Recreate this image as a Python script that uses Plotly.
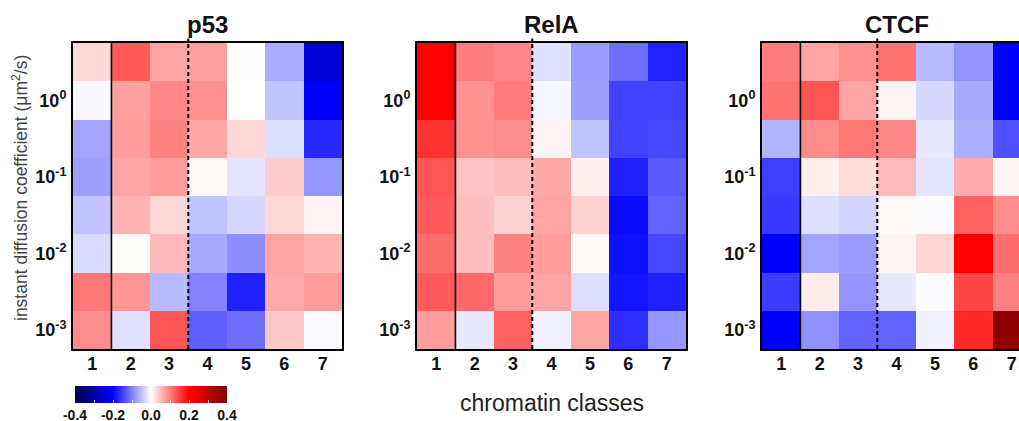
import plotly.graph_objects as go

# ---------------- data ----------------
classes = [1, 2, 3, 4, 5, 6, 7]
# row centres, log10 of instant diffusion coefficient (µm²/s), top -> bottom
log_d = [0.5, 0.0, -0.5, -1.0, -1.5, -2.0, -2.5, -3.0]
y_tick_vals = [0, -1, -2, -3]
y_tick_text = ["10<sup>0</sup>", "10<sup>-1</sup>", "10<sup>-2</sup>", "10<sup>-3</sup>"]
titles = ["p53", "RelA", "CTCF"]

p53 = [
    [0.031, 0.129, 0.071, 0.075, 0.001, -0.067, -0.245],
    [-0.005, 0.075, 0.094, 0.086, 0.000, -0.047, -0.205],
    [-0.071, 0.078, 0.098, 0.068, 0.031, -0.026, -0.169],
    [-0.075, 0.071, 0.078, 0.005, -0.021, 0.039, -0.082],
    [-0.047, 0.060, 0.031, -0.047, -0.031, 0.031, 0.009],
    [-0.029, 0.002, 0.055, -0.068, -0.089, 0.071, 0.059],
    [0.106, 0.082, -0.055, -0.098, -0.176, 0.067, 0.078],
    [0.090, -0.024, 0.133, -0.125, -0.114, 0.043, -0.004],
]
rela = [
    [0.205, 0.102, 0.094, -0.024, -0.078, -0.114, -0.173],
    [0.205, 0.086, 0.102, -0.008, -0.075, -0.149, -0.149],
    [0.161, 0.086, 0.090, 0.009, -0.047, -0.149, -0.144],
    [0.133, 0.047, 0.051, 0.068, 0.013, -0.176, -0.129],
    [0.129, 0.051, 0.035, 0.072, 0.035, -0.192, -0.122],
    [0.114, 0.051, 0.098, 0.078, 0.005, -0.188, -0.145],
    [0.129, 0.118, 0.078, 0.071, -0.026, -0.184, -0.176],
    [0.078, -0.018, 0.125, -0.012, 0.071, -0.165, -0.082],
]
ctcf = [
    [0.102, 0.071, 0.086, 0.110, -0.055, -0.084, -0.205],
    [0.110, 0.133, 0.071, 0.008, -0.031, -0.068, -0.210],
    [-0.060, 0.090, 0.106, 0.094, -0.018, -0.063, -0.137],
    [-0.151, 0.013, 0.027, 0.053, -0.021, 0.067, 0.008],
    [-0.155, -0.026, -0.034, 0.005, -0.002, 0.125, 0.090],
    [-0.205, -0.071, -0.078, 0.009, 0.034, 0.205, 0.114],
    [-0.153, 0.016, -0.084, -0.018, -0.002, 0.145, 0.100],
    [-0.205, -0.086, -0.122, -0.123, -0.010, 0.169, 0.380],
]
panels = [p53, rela, ctcf]
cbar_vals = [-0.4, -0.3, -0.2, -0.1, 0.0, 0.1, 0.2, 0.3, 0.4]
cbar_text = ["-0.4", "", "-0.2", "", "0.0", "", "0.2", "", "0.4"]

# ---------------- styling ----------------
W, H = 1019, 421
ML, MR, MT, MB = 73, 0, 43, 72
PW = W - ML - MR
PH = H - MT - MB
FONT = "Liberation Sans, Arial, sans-serif"
seismic = [[0.0, "rgb(0,0,77)"], [0.25, "rgb(0,0,255)"], [0.5, "rgb(255,255,255)"],
           [0.75, "rgb(255,0,0)"], [1.0, "rgb(128,0,0)"]]

panel_px = [(73, 342), (417, 686), (762, 1031)]
domains = []
for a, b in panel_px:
    domains.append([(a - ML) / PW, min(1.0, (b - ML) / PW)])
col_w = (panel_px[2][1] - panel_px[2][0]) / 7.0
x_ranges = [[0.5, 7.5], [0.5, 7.5], [0.5, 0.5 + (W - panel_px[2][0]) / col_w]]

fig = go.Figure()
for i, z in enumerate(panels):
    xa = "x" if i == 0 else f"x{i+1}"
    ya = "y" if i == 0 else f"y{i+1}"
    fig.add_trace(go.Heatmap(
        z=z, x=classes, y=log_d, xaxis=xa, yaxis=ya,
        colorscale=seismic, zmin=-0.4, zmax=0.4,
        showscale=(i == 0),
        colorbar=dict(
            orientation="h", x=(75 - ML) / PW, xanchor="left",
            y=(PH + MT - 386) / PH, yanchor="top",
            lenmode="pixels", len=152, thickness=17,
            outlinewidth=0, xpad=0, ypad=0,
            tickmode="array", tickvals=cbar_vals, ticktext=cbar_text,
            ticks="inside", ticklen=3, tickcolor="rgba(255,255,255,0.7)",
            tickfont=dict(family=FONT, size=14, color="#111", weight="bold"),
        ),
        hoverinfo="skip",
    ))
    xkey = "xaxis" if i == 0 else f"xaxis{i+1}"
    ykey = "yaxis" if i == 0 else f"yaxis{i+1}"
    fig.layout[xkey] = dict(
        domain=domains[i], range=x_ranges[i], anchor=ya,
        tickmode="array", tickvals=classes, ticktext=[str(c) for c in classes],
        ticks="", showgrid=False, zeroline=False,
        showline=True, linecolor="black", linewidth=2, mirror=True,
        tickfont=dict(family=FONT, size=18, color="#111", weight="bold"),
        ticklabelstandoff=-3,
    )
    fig.layout[ykey] = dict(
        domain=[0, 1], range=[-3.25, 0.75], anchor=xa,
        tickmode="array", tickvals=y_tick_vals, ticktext=y_tick_text,
        ticks="", showgrid=False, zeroline=False,
        showline=True, linecolor="black", linewidth=2, mirror=(i < 2),
        tickfont=dict(family=FONT, size=18, color="#111", weight="bold"),
        ticklabelstandoff=1,
    )
    # separators: solid after class 1, dashed after class 3
    fig.add_shape(type="line", xref=xa, yref=f"{ya} domain", x0=1.5, x1=1.5, y0=0, y1=1,
                  line=dict(color="black", width=1.6))
    fig.add_shape(type="line", xref=xa, yref=f"{ya} domain", x0=3.5, x1=3.5, y0=0, y1=1.015,
                  line=dict(color="black", width=2, dash="4px,3px"))
    # panel title
    cx = (panel_px[i][0] + panel_px[i][1]) / 2.0
    fig.add_annotation(text=f"<b>{titles[i]}</b>", xref="paper", yref="paper",
                       x=(cx - ML) / PW, y=(PH + MT - 25) / PH, showarrow=False,
                       font=dict(family=FONT, size=24, color="#111"),
                       xanchor="center", yanchor="middle")

fig.add_annotation(text="instant diffusion coefficient (μm<sup>2</sup>/s)", xref="paper", yref="paper",
                   x=(20 - ML) / PW, y=(PH + MT - 188) / PH, textangle=-90, showarrow=False,
                   font=dict(family=FONT, size=17.5, color="#444"),
                   xanchor="center", yanchor="middle")
fig.add_annotation(text="chromatin classes", xref="paper", yref="paper",
                   x=(552 - ML) / PW, y=(PH + MT - 403) / PH, showarrow=False,
                   font=dict(family=FONT, size=23, color="#222"),
                   xanchor="center", yanchor="middle")

fig.update_layout(
    width=W, height=H,
    margin=dict(l=ML, r=MR, t=MT, b=MB, autoexpand=False),
    paper_bgcolor="white", plot_bgcolor="white",
    font=dict(family=FONT),
    showlegend=False,
)
fig.write_html("out.html", config={"displayModeBar": False})
